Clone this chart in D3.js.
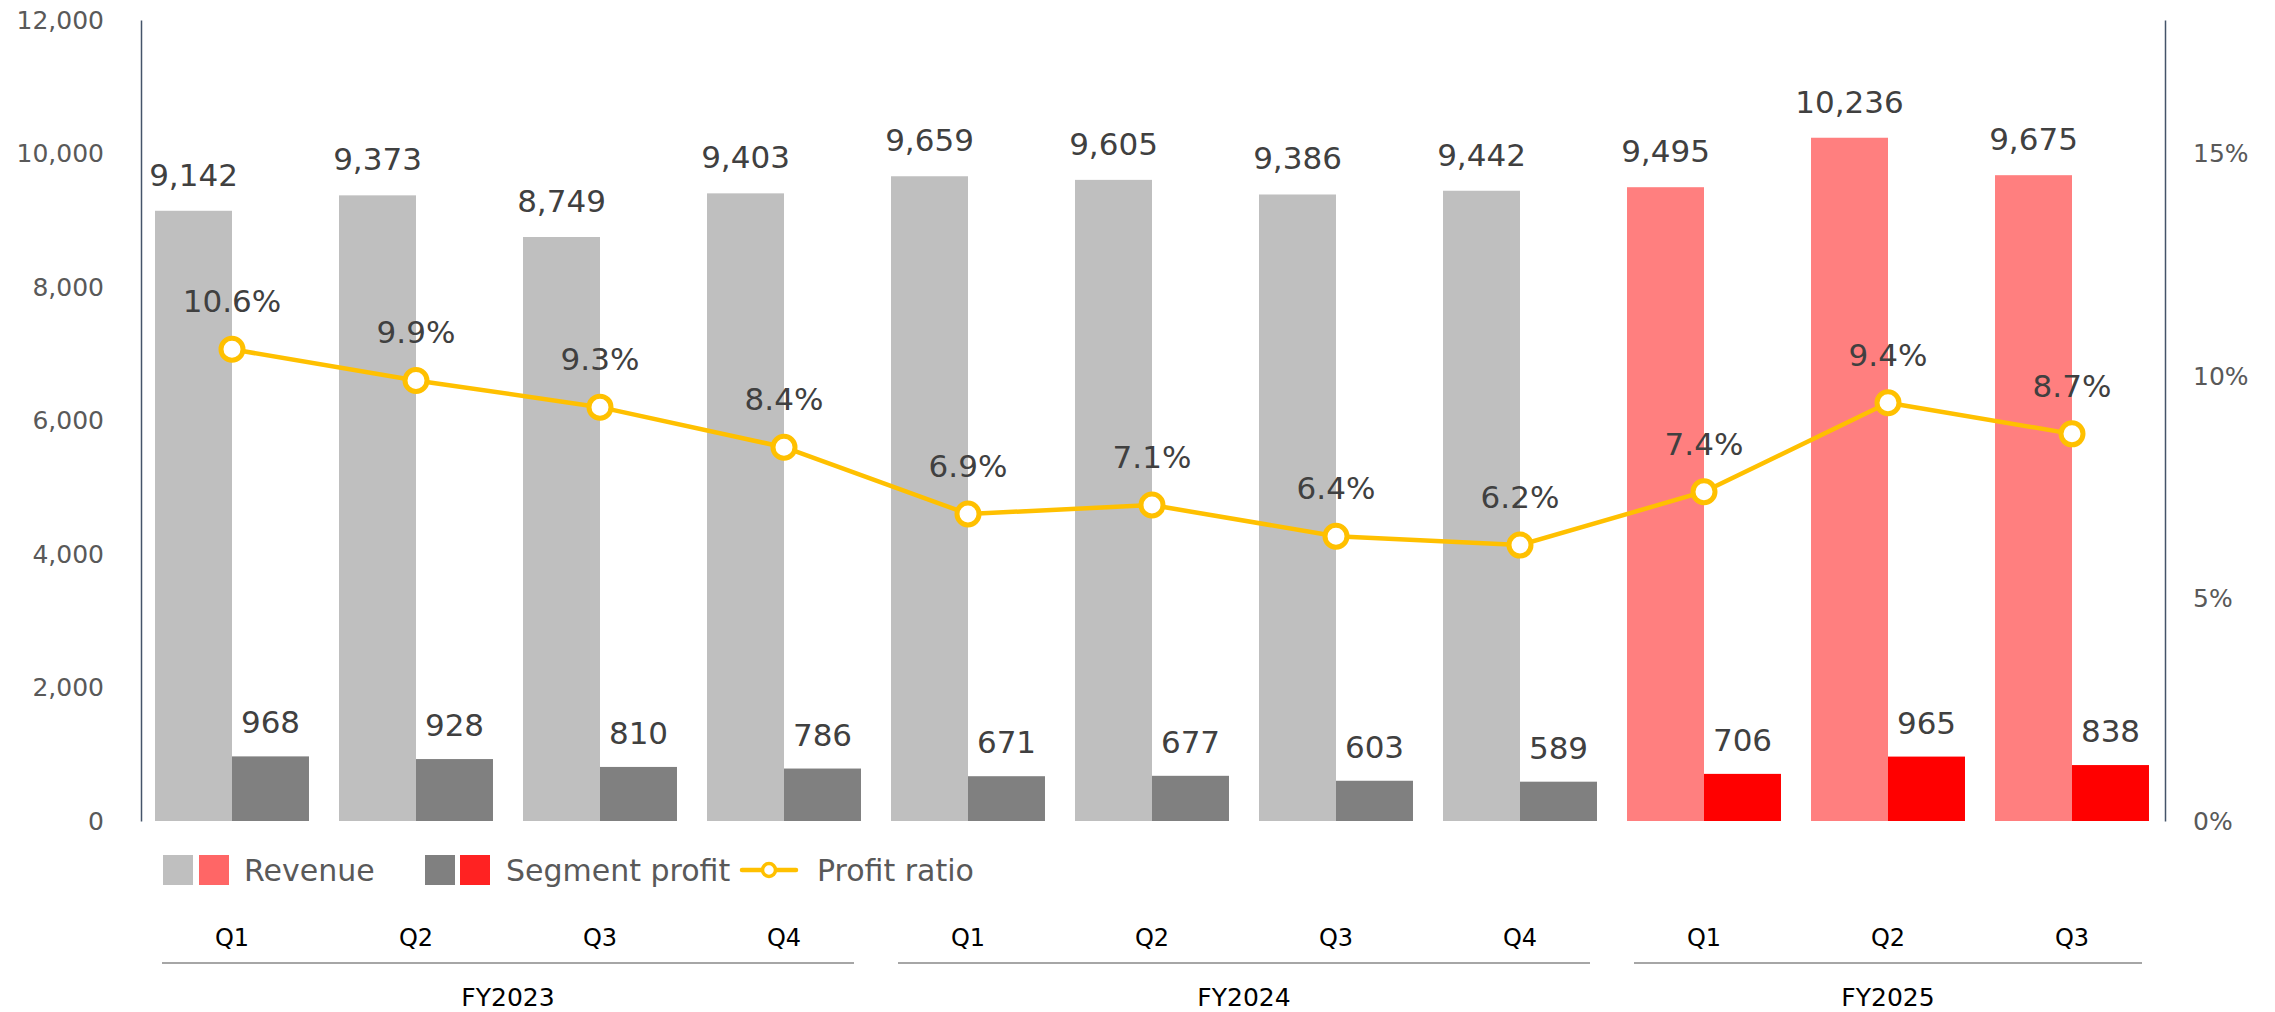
<!DOCTYPE html>
<html>
<head>
<meta charset="utf-8">
<script src="https://cdn.jsdelivr.net/npm/d3@7"></script>
<style>
  html, body { margin: 0; padding: 0; background: #fff; }
  svg { display: block; font-family: Verdana, "DejaVu Sans", sans-serif; }
</style>
</head>
<body>
<svg id="chart" width="2275" height="1012"></svg>
<script>
// ---- data ----
const quarters = ["Q1","Q2","Q3","Q4","Q1","Q2","Q3","Q4","Q1","Q2","Q3"];
const fiscalYears = ["FY2023","FY2023","FY2023","FY2023","FY2024","FY2024","FY2024","FY2024","FY2025","FY2025","FY2025"];
const revenue = [9142, 9373, 8749, 9403, 9659, 9605, 9386, 9442, 9495, 10236, 9675];
const segmentProfit = [968, 928, 810, 786, 671, 677, 603, 589, 706, 965, 838];
const profitRatio = [0.106, 0.099, 0.093, 0.084, 0.069, 0.071, 0.064, 0.062, 0.074, 0.094, 0.087];
const leftTicks = [0, 2000, 4000, 6000, 8000, 10000, 12000];
const rightTicks = [0, 0.05, 0.10, 0.15];
const groups = ["FY2023", "FY2024", "FY2025"];
const highlightYear = "FY2025";

// ---- layout ----
const svg = d3.select("#chart");
const idx = d3.range(quarters.length);
const x = d3.scaleBand().domain(idx).range([140, 2164]).paddingInner(0).paddingOuter(0);
const sub = d3.scaleBand().domain(["rev", "prof"]).range([0, x.bandwidth()]).paddingInner(0).paddingOuter(0.195);
const y = d3.scaleLinear().domain([0, 12000]).range([821, 20]);
const yR = d3.scaleLinear().domain([0, 0.18]).range([821, 20]);
const cx = i => x(i) + x.bandwidth() / 2;

const colRev = i => fiscalYears[i] === highlightYear ? "#FF7F7F" : "#BFBFBF";
const colProf = i => fiscalYears[i] === highlightYear ? "#FF0000" : "#808080";

// axes
const axL = svg.append("g").attr("transform", "translate(141,0)")
  .call(d3.axisLeft(y).tickValues(leftTicks).tickFormat(d3.format(",")).tickSizeInner(0).tickSizeOuter(0).tickPadding(37));
const axR = svg.append("g").attr("transform", "translate(2165,0)")
  .call(d3.axisRight(yR).tickValues(rightTicks).tickFormat(d3.format(".0%")).tickSizeInner(0).tickSizeOuter(0).tickPadding(28));
[axL, axR].forEach(a => {
  a.select(".domain").attr("stroke", "#44546A").attr("stroke-width", 1.5);
  a.selectAll("text").attr("fill", "#595959").style("font-size", "25px").style("font-family", "Verdana, 'DejaVu Sans', sans-serif");
});

// bars
svg.append("g").selectAll("rect").data(idx).join("rect")
  .attr("x", i => x(i) + sub("rev")).attr("width", sub.bandwidth())
  .attr("y", i => y(revenue[i])).attr("height", i => y(0) - y(revenue[i]))
  .attr("fill", colRev);
svg.append("g").selectAll("rect").data(idx).join("rect")
  .attr("x", i => x(i) + sub("prof")).attr("width", sub.bandwidth())
  .attr("y", i => y(segmentProfit[i])).attr("height", i => y(0) - y(segmentProfit[i]))
  .attr("fill", colProf);

// bar labels
const fmt = d3.format(",");
svg.append("g").selectAll("text").data(idx).join("text")
  .attr("x", i => x(i) + sub("rev") + sub.bandwidth() / 2)
  .attr("y", i => y(revenue[i]) - 25)
  .attr("text-anchor", "middle").attr("fill", "#404040").style("font-size", "31px")
  .text(i => fmt(revenue[i]));
svg.append("g").selectAll("text").data(idx).join("text")
  .attr("x", i => x(i) + sub("prof") + sub.bandwidth() / 2)
  .attr("y", i => y(segmentProfit[i]) - 23)
  .attr("text-anchor", "middle").attr("fill", "#404040").style("font-size", "31px")
  .text(i => fmt(segmentProfit[i]));

// line
const line = d3.line().x(i => cx(i)).y(i => yR(profitRatio[i]));
svg.append("path").datum(idx).attr("d", line)
  .attr("fill", "none").attr("stroke", "#FFC000").attr("stroke-width", 4.5).attr("stroke-linejoin", "round");
svg.append("g").selectAll("circle").data(idx).join("circle")
  .attr("cx", cx).attr("cy", i => yR(profitRatio[i])).attr("r", 11)
  .attr("fill", "#fff").attr("stroke", "#FFC000").attr("stroke-width", 5);
svg.append("g").selectAll("text").data(idx).join("text")
  .attr("x", cx).attr("y", i => yR(profitRatio[i]) - 37)
  .attr("text-anchor", "middle").attr("fill", "#404040").style("font-size", "31px")
  .text(i => d3.format(".1%")(profitRatio[i]));

// legend
const lg = svg.append("g").attr("class", "legend");
const legendY = 870;
const swatch = (xx, c) => lg.append("rect").attr("x", xx).attr("y", legendY - 15).attr("width", 30).attr("height", 30).attr("fill", c);
swatch(163, "#BFBFBF"); swatch(199, "#FF6666");
lg.append("text").attr("x", 244).attr("y", legendY + 11).attr("fill", "#595959").style("font-size", "30px").text("Revenue");
swatch(425, "#808080"); swatch(460, "#FF2222");
lg.append("text").attr("x", 506).attr("y", legendY + 11).attr("fill", "#595959").style("font-size", "30px").text("Segment profit");
lg.append("line").attr("x1", 742).attr("x2", 796).attr("y1", legendY).attr("y2", legendY)
  .attr("stroke", "#FFC000").attr("stroke-width", 4.5).attr("stroke-linecap", "round");
lg.append("circle").attr("cx", 769).attr("cy", legendY).attr("r", 6.5)
  .attr("fill", "#fff").attr("stroke", "#FFC000").attr("stroke-width", 3.5);
lg.append("text").attr("x", 817).attr("y", legendY + 11).attr("fill", "#595959").style("font-size", "30px").text("Profit ratio");

// quarter labels
svg.append("g").selectAll("text").data(idx).join("text")
  .attr("x", cx).attr("y", 946).attr("text-anchor", "middle").attr("fill", "#000").style("font-size", "24px")
  .text(i => quarters[i]);

// fiscal year group lines and labels
const inset = 22;
groups.forEach(g => {
  const members = idx.filter(i => fiscalYears[i] === g);
  const x0 = x(members[0]) + inset;
  const x1 = x(members[members.length - 1]) + x.bandwidth() - inset;
  svg.append("line").attr("x1", x0).attr("x2", x1).attr("y1", 963).attr("y2", 963)
    .attr("stroke", "#A6A6A6").attr("stroke-width", 2);
  svg.append("text").attr("x", (x0 + x1) / 2).attr("y", 1006).attr("text-anchor", "middle")
    .attr("fill", "#000").style("font-size", "25px").text(g);
});
</script>
</body>
</html>
